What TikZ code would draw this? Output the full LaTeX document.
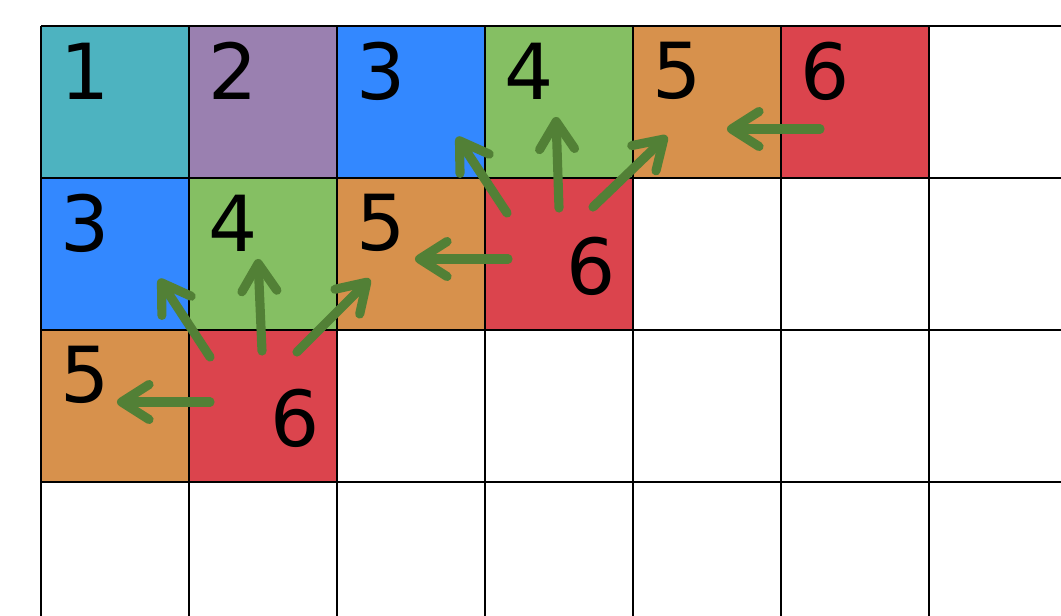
\documentclass[tikz,border=0pt]{standalone}
\usepackage{fontspec}
\usetikzlibrary{arrows.meta}
\newfontfamily\digitfont{DejaVu Sans}
\definecolor{cteal}{HTML}{4DB3C0}
\definecolor{cpurple}{HTML}{9A80B0}
\definecolor{cblue}{HTML}{3388FF}
\definecolor{cgreen}{HTML}{85BF63}
\definecolor{corange}{HTML}{D7914C}
\definecolor{cred}{HTML}{DB444D}
\definecolor{carrow}{HTML}{528036}
\tikzset{
  box/.style={fill=#1, draw=none, minimum width=2.96cm, minimum height=3.04cm, inner sep=0pt, outer sep=0pt},
  digit/.style={font=\digitfont\fontsize{44}{44}\selectfont, inner sep=0pt},
  arrow/.style={-{Straight Barb[length=5.5mm, width=7mm, round]}, draw=carrow, line width=5.2pt, line cap=round},
  gridline/.style={draw=black, line width=1.1pt},
}

\begin{document}
\begin{tikzpicture}[x=0.02cm, y=-0.02cm]
  \useasboundingbox (0,0) rectangle (1061,615);
  \clip (0,0) rectangle (1061,615);
  \foreach \r/\c/\col in {1/1/cteal, 1/2/cpurple, 1/3/cblue, 1/4/cgreen, 1/5/corange, 1/6/cred,
      2/1/cblue, 2/2/cgreen, 2/3/corange, 2/4/cred, 3/1/corange, 3/2/cred} {
    \pgfmathsetmacro{\x}{115+148*(\c-1)}
    \pgfmathsetmacro{\y}{102+152*(\r-1)}
    \node[box=\col] (c\r\c) at (\x, \y) {};
  }
  \foreach \i in {0,...,7} {\draw[gridline] (41+148*\i, 26) -- (41+148*\i, 640);}
  \foreach \j in {0,...,4} {\draw[gridline] (41, 26+152*\j) -- (1100, 26+152*\j);}
  \foreach \r/\c/\d in {1/1/1, 1/2/2, 1/3/3, 1/4/4, 1/5/5, 1/6/6, 2/1/3, 2/2/4, 2/3/5, 3/1/5}
    \node[digit] (n\r\c) at ([shift={(44,45)}]c\r\c.north west) {\d};
  \node[digit] (n24) at ([shift={(106,88)}]c24.north west) {6};
  \node[digit] (n32) at ([shift={(106,88)}]c32.north west) {6};
  \draw[arrow] ([shift={(39,27)}]c16.west) -- ([shift={(-54,27)}]c15.east);
  \draw[arrow] ([shift={(23,5)}]c24.west) -- ([shift={(-70,5)}]c23.east);
  \draw[arrow] ([shift={(22,35)}]c24.north west) -- ([shift={(-28,-41)}]c13.south east);
  \draw[arrow] ([shift={(0,30)}]c24.north) -- ([shift={(-3,-61)}]c14.south);
  \draw[arrow] ([shift={(-40,29)}]c24.north east) -- ([shift={(34,-42)}]c15.south west);
  \draw[arrow] ([shift={(21,-4)}]c32.west) -- ([shift={(-72,-4)}]c31.east);
  \draw[arrow] ([shift={(21,27)}]c32.north west) -- ([shift={(-30,-51)}]c21.south east);
  \draw[arrow] ([shift={(-1,21)}]c32.north) -- ([shift={(-5,-71)}]c22.south);
  \draw[arrow] ([shift={(-40,22)}]c32.north east) -- ([shift={(33,-51)}]c23.south west);
\end{tikzpicture}
\end{document}
